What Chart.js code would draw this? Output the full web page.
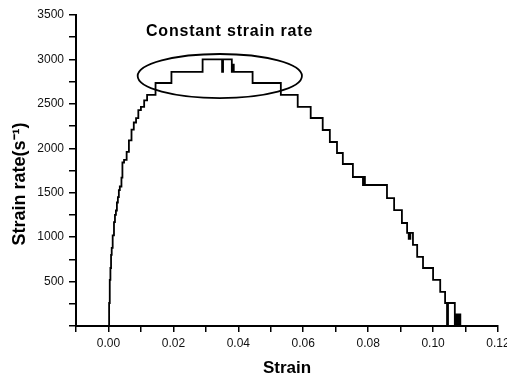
<!DOCTYPE html>
<html><head><meta charset="utf-8">
<script src="https://cdn.jsdelivr.net/npm/chart.js@4/dist/chart.umd.min.js"></script>
<style>html,body{margin:0;padding:0;background:#fff}#wrap{width:507px;height:377px}</style>
</head><body><div id="wrap"><canvas id="c" width="507" height="377"></canvas></div>
<script>
// Strain (x) at which each step begins, and strain-rate level (s^-1) from there on
const strain = [0.0000,0.0002,0.0004,0.0006,0.0008,0.0010,0.0013,0.0017,0.0020,0.0023,0.0026,0.0029,0.0032,0.0035,0.0040,0.0043,0.0048,0.0056,0.0063,0.0071,0.0078,0.0085,0.0092,0.0100,0.0110,0.0119,0.0145,0.0194,0.0290,0.0350,0.0353,0.0380,0.0383,0.0386,0.0444,0.0531,0.0583,0.0623,0.0660,0.0682,0.0704,0.0722,0.0753,0.0784,0.0787,0.0790,0.0858,0.0880,0.0904,0.0920,0.0925,0.0930,0.0938,0.0951,0.0969,0.1000,0.1022,0.1037,0.1043,0.1046,0.1067,0.1069,0.1071,0.1073,0.1075,0.1077,0.1079,0.1081,0.1084];
const strainRate = [0,259,518,653,800,880,1020,1170,1250,1300,1390,1450,1530,1570,1670,1840,1870,1960,2090,2210,2290,2340,2430,2465,2540,2600,2735,2860,3000,2860,3000,2860,2940,2860,2735,2600,2465,2341,2206,2071,1947,1823,1677,1587,1677,1587,1440,1305,1159,1047,980,1047,912,777,653,518,383,259,0,259,0,130,0,130,0,130,0,130,0];
const yTicks = [500,1000,1500,2000,2500,3000,3500];
const xTickLabels = ['0.00','0.02','0.04','0.06','0.08','0.10','0.12'];
const annotationText = 'Constant strain rate';
const xTitle = 'Strain';
const yTitle = 'Strain rate(s\u207B\u00B9)';
const ellipseCenter = {x:0.0343, y:2813};
const ellipseRadius = {x:0.0253, y:248};
const textPos = {x:0.0373, y:3309};

const pts = strain.map((x,i)=>({x, y:strainRate[i]}));
const FONT = '"Liberation Sans", Arial, sans-serif';

const overlay = {
  id:'overlay',
  afterDatasetsDraw(chart){
    const {ctx, chartArea, scales:{x, y}} = chart;
    ctx.save();
    const cx = x.getPixelForValue(ellipseCenter.x), cy = y.getPixelForValue(ellipseCenter.y);
    const rx = x.getPixelForValue(ellipseCenter.x+ellipseRadius.x)-cx;
    const ry = cy - y.getPixelForValue(ellipseCenter.y+ellipseRadius.y);
    ctx.beginPath();
    ctx.ellipse(cx, cy, rx, ry, 0, 0, Math.PI*2);
    ctx.lineWidth = 1.8; ctx.strokeStyle = '#000'; ctx.stroke();
    ctx.fillStyle = '#000';
    ctx.font = 'bold 16px ' + FONT;
    ctx.letterSpacing = '0.8px';
    ctx.textAlign = 'center'; ctx.textBaseline = 'middle';
    ctx.fillText(annotationText, x.getPixelForValue(textPos.x), y.getPixelForValue(textPos.y));
    ctx.letterSpacing = '0px';
    // x-axis title
    ctx.font = 'bold 17px ' + FONT;
    ctx.fillText(xTitle, (chartArea.left + chartArea.right)/2, 368);
    // y-axis title
    ctx.translate(20, 184);
    ctx.rotate(-Math.PI/2);
    ctx.font = 'bold 18px ' + FONT;
    ctx.fillText(yTitle, 0, 0);
    ctx.restore();
  }
};

new Chart(document.getElementById('c'), {
  type:'line',
  data:{datasets:[{data:pts, stepped:true, borderColor:'#000', borderWidth:1.8, pointRadius:0, fill:false, tension:0}]},
  options:{
    responsive:false, animation:false,
    layout:{padding:{left:0, right:9, top:15, bottom:0}},
    plugins:{legend:{display:false}, tooltip:{enabled:false}},
    scales:{
      x:{type:'linear', min:-0.01, max:0.12,
        border:{display:true, color:'#000', width:2},
        grid:{drawOnChartArea:false, drawTicks:true, tickLength:6, color:'#000', lineWidth:1.5},
        ticks:{stepSize:0.01, autoSkip:false, maxRotation:0, color:'#111', padding:4,
          font:{family:FONT, size:12},
          callback:(v)=>{const k=Math.round(v*100); return (k>=0 && k%2===0)? xTickLabels[k/2] : '';}},
        title:{display:false},
        afterFit:(s)=>{s.height=51; s.paddingLeft=0; s.paddingRight=0;}
      },
      y:{type:'linear', min:0, max:3500,
        border:{display:true, color:'#000', width:2},
        grid:{drawOnChartArea:false, drawTicks:true, tickLength:7, color:'#000', lineWidth:1.5},
        ticks:{stepSize:250, autoSkip:false, color:'#111', padding:5,
          font:{family:FONT, size:12},
          callback:(v)=> yTicks.includes(v) ? String(v) : ''},
        title:{display:false},
        afterFit:(s)=>{s.width=76;}
      }
    }
  },
  plugins:[overlay]
});
</script></body></html>
